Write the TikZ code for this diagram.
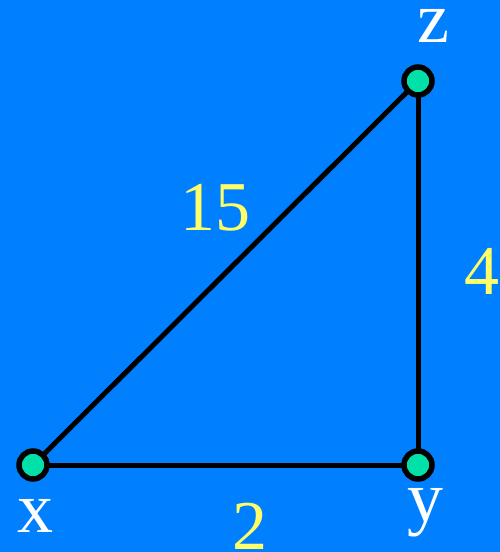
\documentclass[tikz,border=0pt]{standalone}
\usepackage{fontspec}
\setmainfont{Liberation Serif}
\definecolor{bg}{HTML}{0080FF}
\definecolor{vfill}{HTML}{00E0A8}
\definecolor{lblyel}{HTML}{FFFF66}
\begin{document}
\begin{tikzpicture}[x=1pt,y=-1pt,
  vertex/.style={circle,draw=black,line width=5.5pt,fill=vfill,minimum size=28pt,inner sep=0pt},
  edge/.style={draw=black,line width=5pt},
  vname/.style={text=white,anchor=base,inner sep=0pt,font=\fontsize{72}{80}\selectfont},
  wlabel/.style={text=lblyel,anchor=base,inner sep=0pt,font=\fontsize{70}{80}\selectfont}]
\fill[bg] (0,0) rectangle (500,552);
\useasboundingbox (0,0) rectangle (500,552);
\coordinate (px) at (33,465);
\coordinate (py) at (418,465);
\coordinate (pz) at (418,81);
\draw[edge] (px) -- (py);
\draw[edge] (px) -- (pz);
\draw[edge] (py) -- (pz);
\node[vertex] (x) at (px) {};
\node[vertex] (y) at (py) {};
\node[vertex] (z) at (pz) {};
\node[vname] (lx) at (35,532) {x};
\node[vname] (ly) at (425,521) {y};
\node[vname] (lz) at (433,42) {z};
\node[wlabel] (l15) at (215,230) {15};
\node[wlabel] (l4) at (482,294) {4};
\node[wlabel] (l2) at (250,549) {2};
\end{tikzpicture}
\end{document}
